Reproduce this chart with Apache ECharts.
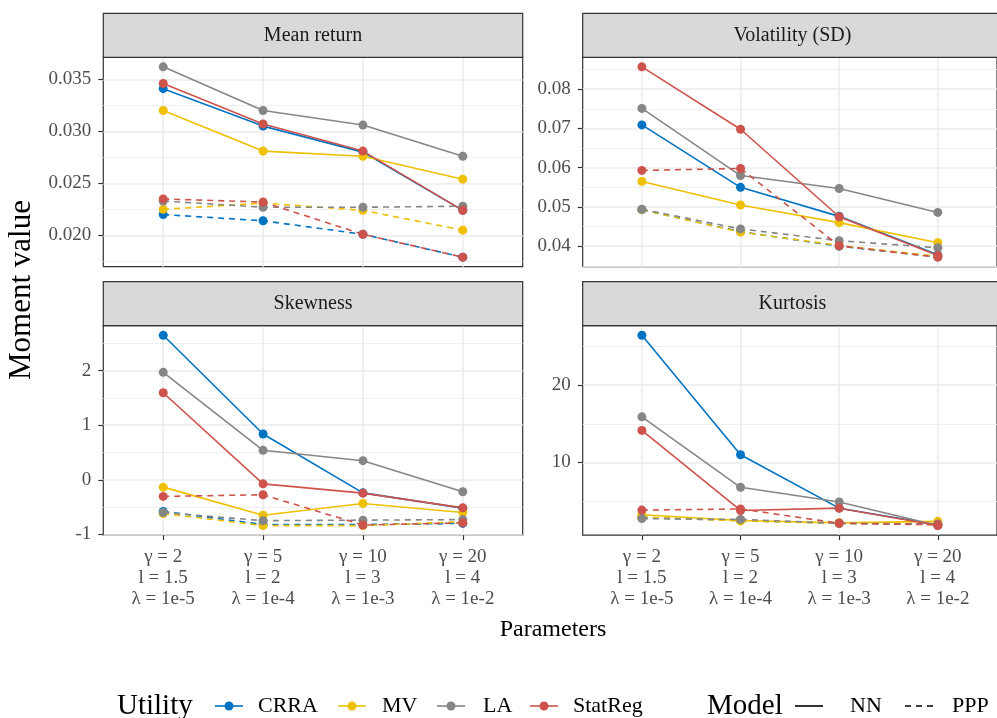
<!DOCTYPE html>
<html>
<head>
<meta charset="utf-8">
<script src="https://cdn.jsdelivr.net/npm/echarts@6/dist/echarts.min.js"></script>
<style>
  html, body { margin: 0; padding: 0; background: #ffffff; }
  #chart { width: 997px; height: 718px; }
</style>
</head>
<body>
<div id="chart"></div>
<script>
// ---- Data -------------------------------------------------------------
const params = [
  'γ = 2\nl = 1.5\nλ = 1e-5',
  'γ = 5\nl = 2\nλ = 1e-4',
  'γ = 10\nl = 3\nλ = 1e-3',
  'γ = 20\nl = 4\nλ = 1e-2'
];
const utilities = ['CRRA', 'MV', 'LA', 'StatReg'];
const models = ['NN', 'PPP'];
const panelTitles = ['Mean return', 'Volatility (SD)', 'Skewness', 'Kurtosis'];

// rows follow the order of `utilities`: CRRA, MV, LA, StatReg
const meanReturnNN = [
  [0.0341, 0.0305, 0.0280, 0.0224],
  [0.0320, 0.0281, 0.0276, 0.0254],
  [0.0362, 0.0320, 0.0306, 0.0276],
  [0.0346, 0.0307, 0.0281, 0.0224]
];
const meanReturnPPP = [
  [0.0220, 0.0214, 0.0201, 0.0179],
  [0.0225, 0.0231, 0.0224, 0.0205],
  [0.0233, 0.0227, 0.0227, 0.0228],
  [0.0235, 0.0232, 0.0201, 0.0179]
];
const volatilityNN = [
  [0.0709, 0.0550, 0.0476, 0.0378],
  [0.0565, 0.0505, 0.0460, 0.0409],
  [0.0751, 0.0580, 0.0547, 0.0486],
  [0.0857, 0.0698, 0.0475, 0.0376]
];
const volatilityPPP = [
  [0.0493, 0.0437, 0.0400, 0.0373],
  [0.0493, 0.0436, 0.0402, 0.0374],
  [0.0494, 0.0444, 0.0414, 0.0396],
  [0.0593, 0.0598, 0.0401, 0.0372]
];
const skewnessNN = [
  [2.65, 0.84, -0.24, -0.52],
  [-0.135, -0.65, -0.435, -0.60],
  [1.97, 0.54, 0.35, -0.22],
  [1.595, -0.075, -0.245, -0.515]
];
const skewnessPPP = [
  [-0.58, -0.82, -0.82, -0.80],
  [-0.62, -0.84, -0.84, -0.77],
  [-0.60, -0.75, -0.74, -0.73],
  [-0.305, -0.275, -0.83, -0.79]
];
const kurtosisNN = [
  [26.45, 11.0, 4.1, 1.95],
  [3.25, 2.5, 2.2, 2.4],
  [15.9, 6.8, 4.9, 1.85],
  [14.15, 3.8, 4.1, 1.85]
];
const kurtosisPPP = [
  [2.9, 2.5, 2.15, 2.0],
  [2.95, 2.45, 2.15, 2.1],
  [2.75, 2.65, 2.15, 2.05],
  [3.85, 4.0, 2.15, 1.95]
];

// y-axis break labels per panel
const meanReturnTicks = ['0.020', '0.025', '0.030', '0.035'];
const volatilityTicks = ['0.04', '0.05', '0.06', '0.07', '0.08'];
const skewnessTicks = ['-1', '0', '1', '2'];
const kurtosisTicks = ['10', '20'];

// ---- Styling ------------------------------------------------------------
const FONT = '"Liberation Serif", "DejaVu Serif", serif';
const utilityColors = { CRRA: '#0073C2', MV: '#EFC000', LA: '#868686', StatReg: '#CD534C' };
const DASH = [6, 5];
const INK = '#333333';

const panels = [
  { title: panelTitles[0], nn: meanReturnNN, ppp: meanReturnPPP, ticks: meanReturnTicks },
  { title: panelTitles[1], nn: volatilityNN, ppp: volatilityPPP, ticks: volatilityTicks },
  { title: panelTitles[2], nn: skewnessNN, ppp: skewnessPPP, ticks: skewnessTicks },
  { title: panelTitles[3], nn: kurtosisNN, ppp: kurtosisPPP, ticks: kurtosisTicks }
];

// facet layout (2 x 2, free y scales)
const PANEL_W = 419.4, PANEL_H = 209.4, STRIP_H = 44;
const panelBoxes = [
  { left: 103.3, top: 57.3 },
  { left: 582.7, top: 57.3 },
  { left: 103.3, top: 325.7 },
  { left: 582.7, top: 325.7 }
];

const grid = [], xAxis = [], yAxis = [], series = [], graphic = [];
const xPositions = params.map((_, k) => k + 1);
const noAxisLine = { show: false, onZero: false };

panels.forEach((p, i) => {
  const box = panelBoxes[i];
  const bottomRow = i >= 2;

  grid.push({
    left: box.left, top: box.top, width: PANEL_W, height: PANEL_H,
    show: true, backgroundColor: '#ffffff', borderColor: INK, borderWidth: 1.2
  });

  xAxis.push({
    type: 'value', gridIndex: i, min: 0.4, max: 4.6, position: 'bottom',
    axisLine: noAxisLine,
    axisTick: { show: bottomRow, customValues: xPositions, length: 5, lineStyle: { color: INK, width: 1.2 } },
    axisLabel: {
      show: bottomRow, customValues: xPositions,
      formatter: v => params[Math.round(v) - 1],
      fontFamily: FONT, fontSize: 19, lineHeight: 21, color: '#4D4D4D', margin: 11
    },
    splitLine: { show: true, lineStyle: { color: '#EBEBEB', width: 1.5 } }
  });

  // continuous scale limits: data range expanded by 5% on each side
  const all = p.nn.flat().concat(p.ppp.flat());
  const lo = Math.min(...all), hi = Math.max(...all);
  const pad = (hi - lo) * 0.05;
  const ymin = lo - pad, ymax = hi + pad;
  const major = p.ticks.map(Number);
  const step = major[1] - major[0];
  const minor = [];
  for (let k = -1; k < major.length; k++) {
    const v = major[0] + (k + 0.5) * step;
    if (v > ymin && v < ymax) minor.push(v);
  }
  const labelFor = v => {
    const hit = p.ticks.find(s => Math.abs(Number(s) - v) < step * 1e-6);
    return hit === undefined ? '' : hit;
  };

  // minor grid lines (drawn first, underneath the major ones)
  yAxis.push({
    type: 'value', gridIndex: i, min: ymin, max: ymax, position: 'left',
    axisLine: noAxisLine,
    axisTick: { show: false, customValues: minor },
    axisLabel: { show: false, customValues: minor },
    splitLine: { show: true, lineStyle: { color: '#EDEDED', width: 0.9 } }
  });
  yAxis.push({
    type: 'value', gridIndex: i, min: ymin, max: ymax, position: 'left',
    axisLine: noAxisLine,
    axisTick: { show: true, customValues: major, length: 5, lineStyle: { color: INK, width: 1.2 } },
    axisLabel: {
      customValues: major, formatter: labelFor,
      fontFamily: FONT, fontSize: 19, color: '#4D4D4D', margin: 12
    },
    splitLine: { show: true, lineStyle: { color: '#EBEBEB', width: 1.5 } }
  });
  const yIdx = 2 * i + 1;

  // lines first, then all points on top
  utilities.forEach((u, ui) => {
    models.forEach(m => {
      const vals = (m === 'NN' ? p.nn : p.ppp)[ui];
      series.push({
        type: 'line', name: u + ' ' + m, xAxisIndex: i, yAxisIndex: yIdx,
        data: vals.map((v, k) => [xPositions[k], v]),
        symbol: 'none', silent: true, z: 3,
        lineStyle: { color: utilityColors[u], width: 1.6, type: m === 'NN' ? 'solid' : DASH }
      });
    });
  });
  utilities.forEach((u, ui) => {
    models.forEach(m => {
      const vals = (m === 'NN' ? p.nn : p.ppp)[ui];
      series.push({
        type: 'scatter', name: u + ' ' + m + ' pts', xAxisIndex: i, yAxisIndex: yIdx,
        data: vals.map((v, k) => [xPositions[k], v]),
        symbol: 'circle', symbolSize: 9, silent: true, z: 4,
        itemStyle: { color: utilityColors[u], opacity: 1 }
      });
    });
  });

  // facet strip
  graphic.push({
    type: 'rect', z: 10,
    shape: { x: box.left, y: box.top - STRIP_H, width: PANEL_W, height: STRIP_H },
    style: { fill: '#D9D9D9', stroke: INK, lineWidth: 1.2 }
  });
  graphic.push({
    type: 'text', z: 11,
    x: box.left + PANEL_W / 2, y: box.top - STRIP_H / 2,
    style: { text: p.title, fontFamily: FONT, fontSize: 20, fill: '#1A1A1A', align: 'center', verticalAlign: 'middle' }
  });
});

// axis titles
graphic.push({
  type: 'text', x: 22, y: 290, rotation: Math.PI / 2,
  style: { text: 'Moment value', fontFamily: FONT, fontSize: 31, fill: '#000', align: 'center', verticalAlign: 'middle' }
});
graphic.push({
  type: 'text', x: 553, y: 630,
  style: { text: 'Parameters', fontFamily: FONT, fontSize: 24, fill: '#000', align: 'center', verticalAlign: 'middle' }
});

// legend: Utility (colour) and Model (line type)
const LEG_Y = 706;
graphic.push({
  type: 'text', x: 117, y: LEG_Y,
  style: { text: 'Utility', fontFamily: FONT, fontSize: 29, fill: '#000', align: 'left', verticalAlign: 'middle' }
});
const utilityKeyX = [215, 338, 437, 530];
const utilityTextX = [258, 382, 483, 573];
utilities.forEach((u, ui) => {
  const x0 = utilityKeyX[ui];
  graphic.push({ type: 'line', shape: { x1: x0, y1: LEG_Y, x2: x0 + 28, y2: LEG_Y }, style: { stroke: utilityColors[u], lineWidth: 1.6 } });
  graphic.push({ type: 'circle', shape: { cx: x0 + 14, cy: LEG_Y, r: 4.5 }, style: { fill: utilityColors[u] } });
  graphic.push({
    type: 'text', x: utilityTextX[ui], y: LEG_Y,
    style: { text: u, fontFamily: FONT, fontSize: 22, fill: '#000', align: 'left', verticalAlign: 'middle' }
  });
});
graphic.push({
  type: 'text', x: 707, y: LEG_Y,
  style: { text: 'Model', fontFamily: FONT, fontSize: 29, fill: '#000', align: 'left', verticalAlign: 'middle' }
});
const modelKeyX = [795, 905];
const modelTextX = [850, 952];
models.forEach((m, mi) => {
  const x0 = modelKeyX[mi];
  graphic.push({
    type: 'line', shape: { x1: x0, y1: LEG_Y, x2: x0 + 28, y2: LEG_Y },
    style: { stroke: '#000', lineWidth: 1.6, lineDash: m === 'NN' ? null : DASH }
  });
  graphic.push({
    type: 'text', x: modelTextX[mi], y: LEG_Y,
    style: { text: m, fontFamily: FONT, fontSize: 22, fill: '#000', align: 'left', verticalAlign: 'middle' }
  });
});

const chart = echarts.init(document.getElementById('chart'), null, { renderer: 'canvas' });
chart.setOption({
  animation: false,
  backgroundColor: '#ffffff',
  grid, xAxis, yAxis, series, graphic
});
</script>
</body>
</html>
